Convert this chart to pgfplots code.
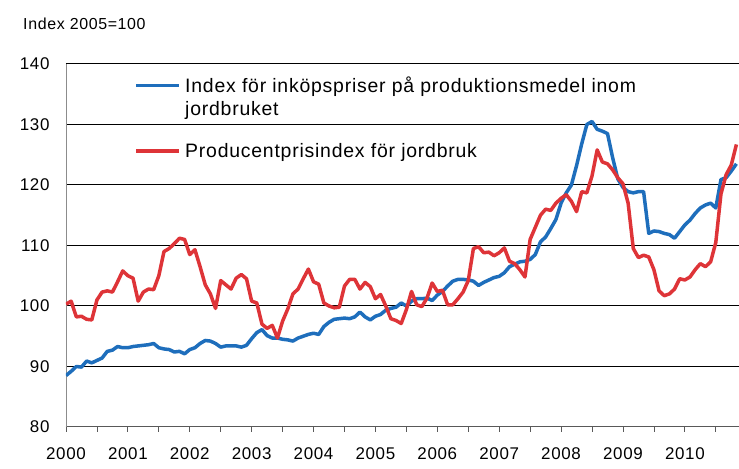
\documentclass[border=0pt]{standalone}
\usepackage{fontspec}
\setmainfont{Liberation Sans}
\newfontfamily\cf{Liberation Sans}[LetterSpace=4]
\usepackage{pgfplots}
\usepackage{pgfplotstable}
\pgfplotsset{compat=1.18}
\definecolor{cblue}{RGB}{30,110,188}
\definecolor{cred}{RGB}{222,52,56}
\pgfplotsset{twoline legend/.style={legend image code/.code={\path[draw=none] (0bp,-11.5bp) -- (0bp,11.5bp);
    \draw[##1, line width=3.5bp] (0bp,11.5bp) -- (43bp,11.5bp);}}}

\pgfplotstableread{
t blue red
0 88.5 100.3
1 89.2 100.8
2 90.0 98.2
3 89.9 98.3
4 90.9 97.8
5 90.6 97.7
6 91.0 101.0
7 91.4 102.3
8 92.5 102.5
9 92.7 102.3
10 93.3 104.0
11 93.1 105.8
12 93.1 105.0
13 93.3 104.6
14 93.4 100.8
15 93.5 102.3
16 93.6 102.8
17 93.8 102.7
18 93.1 105.0
19 92.9 109.0
20 92.8 109.5
21 92.4 110.3
22 92.5 111.2
23 92.1 111.0
24 92.8 108.5
25 93.1 109.3
26 93.8 106.5
27 94.3 103.5
28 94.2 102.0
29 93.8 99.6
30 93.2 104.2
31 93.4 103.5
32 93.4 102.8
33 93.4 104.6
34 93.2 105.2
35 93.5 104.5
36 94.6 100.8
37 95.6 100.5
38 96.1 97.0
39 95.1 96.3
40 94.7 96.8
41 94.7 94.7
42 94.5 97.5
43 94.4 99.5
44 94.2 102.0
45 94.7 102.8
46 95.0 104.5
47 95.3 106.1
48 95.5 104.0
49 95.3 103.6
50 96.6 100.5
51 97.3 100.0
52 97.8 99.7
53 97.9 99.8
54 98.0 103.3
55 97.9 104.4
56 98.2 104.4
57 99.0 102.8
58 98.2 103.9
59 97.7 103.2
60 98.3 101.2
61 98.6 101.9
62 99.3 100.0
63 99.6 97.9
64 99.8 97.6
65 100.5 97.1
66 100.0 99.4
67 100.8 102.4
68 101.2 100.2
69 101.2 99.9
70 101.3 101.3
71 100.9 103.8
72 101.8 102.4
73 102.4 102.6
74 103.3 100.2
75 104.1 100.2
76 104.4 101.2
77 104.4 102.3
78 104.3 104.2
79 104.1 109.5
80 103.4 109.8
81 103.9 108.8
82 104.3 108.9
83 104.7 108.3
84 104.9 108.8
85 105.5 109.6
86 106.5 107.4
87 106.9 107.0
88 107.3 106.0
89 107.4 104.8
90 107.7 111.0
91 108.5 113.0
92 110.6 115.0
93 111.4 116.0
94 112.8 115.8
95 114.3 117.0
96 117.0 117.8
97 118.7 118.4
98 120.0 117.3
99 123.2 115.6
100 126.8 118.9
101 130.0 118.7
102 130.5 121.5
103 129.2 125.8
104 128.9 123.8
105 128.5 123.5
106 124.5 122.5
107 121.0 121.2
108 119.6 120.2
109 118.9 117.0
110 118.7 109.5
111 118.9 108.0
112 118.9 108.4
113 112.0 108.1
114 112.4 106.0
115 112.3 102.5
116 112.0 101.7
117 111.8 102.0
118 111.2 102.8
119 112.3 104.5
120 113.4 104.3
121 114.2 104.8
122 115.3 106.0
123 116.2 107.0
124 116.7 106.5
125 117.0 107.3
126 116.2 110.5
127 120.9 118.5
128 121.2 121.7
129 122.3 123.3
130 123.5 126.7
}\data

\begin{document}
\begin{tikzpicture}
\begin{axis}[
  scale only axis, width=673bp, height=363bp,
  xmin=0, xmax=130.5, ymin=80, ymax=140,
  axis x line*=bottom, axis y line*=left,
  x axis line style={draw=black!65, line width=1pt},
  y axis line style={draw=black!45, line width=0.8pt},
  xtick={0,6,...,126},
  xticklabels={2000,,2001,,2002,,2003,,2004,,2005,,2006,,2007,,2008,,2009,,2010,},
  tick align=outside, major tick length=5bp,
  xtick style={draw=black!65, line width=0.8pt},
  ytick={80,90,...,140}, ytick style={draw=none},
  ymajorgrids, grid style={black, line width=1pt},
  ticklabel style={font=\cf\fontsize{17}{20}\selectfont},
  xticklabel style={yshift=-12bp},
  yticklabel style={xshift=-8bp},
  /pgf/number format/assume math mode=true,
  legend style={at={(0.1018,1)}, anchor=north west, yshift=-12bp,
    draw=none, fill=none, inner sep=0pt, row sep=24bp, column sep=3bp,
    nodes={inner sep=1bp, align=left, font=\cf\fontsize{19.5}{23}\selectfont}},
  legend cell align=left,
  legend image code/.code={\draw[#1, line width=3.5bp] (0bp,0bp) -- (43bp,0bp);},
]
\coordinate (bl) at (rel axis cs:0,0);
\coordinate (tr) at (rel axis cs:1,1);
\addplot[cblue, line width=3.5bp, line join=round, twoline legend]
  table[x=t, y=blue] {\data};
\addlegendentry{Index för inköpspriser på produktionsmedel inom\\jordbruket}
\addplot[cred, line width=3.5bp, line join=round] table[x=t, y=red] {\data};
\addlegendentry{Producentprisindex för jordbruk}
\end{axis}
\node[anchor=west, font=\cf\fontsize{16}{19}\selectfont, inner sep=0pt] at ([shift={(-43bp,40bp)}]bl|-tr) {Index 2005=100};
\pgfresetboundingbox
\path ([shift={(-66bp,-42bp)}]bl) rectangle ([shift={(0bp,64bp)}]tr);
\end{tikzpicture}
\end{document}
